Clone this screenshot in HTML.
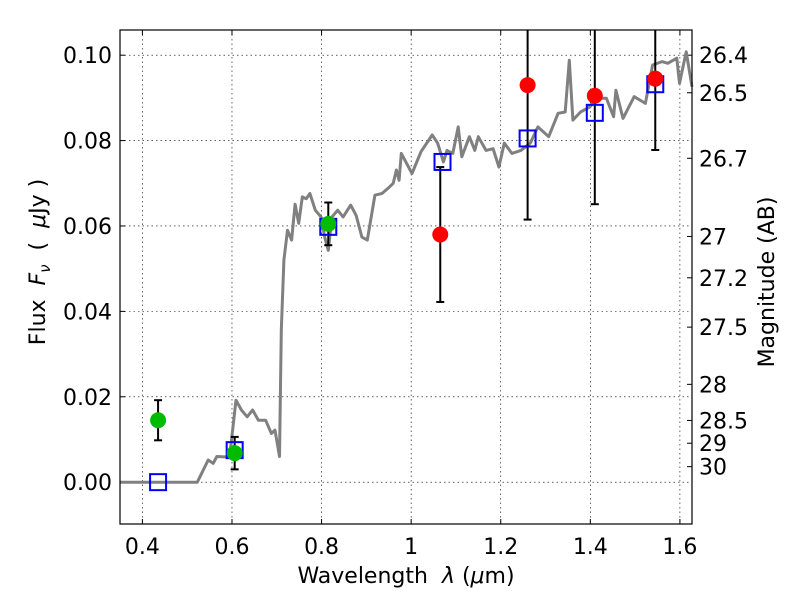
<!DOCTYPE html>
<html><head><meta charset="utf-8"><style>
body{margin:0;background:#fff}
svg text{font-family:"DejaVu Sans","Liberation Sans",sans-serif;fill:#000;white-space:pre}
</style></head><body>
<svg id="c" width="800" height="600" xmlns="http://www.w3.org/2000/svg"></svg>
<script>
const specLam=[0.35,0.5225,0.547,0.558,0.566,0.589,0.597,0.609,0.621,0.634,0.646,0.659,0.675,0.688,0.696,0.706,0.710,0.716,0.724,0.733,0.741,0.749,0.757,0.766,0.774,0.786,0.799,0.807,0.815,0.823,0.836,0.848,0.865,0.877,0.890,0.902,0.919,0.935,0.948,0.960,0.967,0.973,0.978,1.002,1.022,1.047,1.059,1.072,1.080,1.093,1.105,1.113,1.130,1.142,1.150,1.167,1.183,1.196,1.208,1.225,1.245,1.266,1.283,1.307,1.328,1.344,1.353,1.361,1.378,1.399,1.415,1.436,1.452,1.457,1.473,1.498,1.523,1.539,1.560,1.573,1.593,1.599,1.614,1.627];
const specFlux=[0,0,0.0052,0.0044,0.006,0.0059,0.008,0.0192,0.0169,0.0153,0.0169,0.0145,0.0145,0.0114,0.0122,0.006,0.0356,0.052,0.059,0.0567,0.0651,0.0606,0.0668,0.0664,0.0676,0.0637,0.0621,0.0574,0.0543,0.0621,0.0637,0.0621,0.0649,0.0625,0.0574,0.0567,0.0672,0.0676,0.0688,0.07,0.0731,0.0707,0.077,0.0723,0.0774,0.0813,0.0794,0.075,0.0777,0.077,0.0832,0.0762,0.0809,0.0777,0.0809,0.0777,0.0781,0.0738,0.0794,0.077,0.0777,0.0794,0.0832,0.0809,0.0864,0.0867,0.0988,0.0848,0.0867,0.0879,0.0899,0.0899,0.0856,0.0918,0.0852,0.0903,0.0887,0.0977,0.0985,0.0981,0.0993,0.0934,0.1008,0.0926];
const modelLam=[0.435,0.606,0.815,1.07,1.26,1.41,1.545];
const modelFlux=[0,0.0075,0.0598,0.075,0.0805,0.0865,0.0932];
const greenLam=[0.435,0.606,0.815];
const greenFlux=[0.0145,0.0068,0.0605];
const greenErr=[0.0047,0.0038,0.005];
const redLam=[1.065,1.26,1.41,1.545];
const redFlux=[0.058,0.093,0.0905,0.0945];
const redErr=[0.0158,0.0315,0.0254,0.0167];
const xTicks=[0.4,0.6,0.8,1.0,1.2,1.4,1.6];
const xTickLabels=["0.4","0.6","0.8","1","1.2","1.4","1.6"];
const yTicks=[0,0.02,0.04,0.06,0.08,0.10];
const yTickLabels=["0.00","0.02","0.04","0.06","0.08","0.10"];
const magTicks=[26.4,26.5,26.7,27,27.2,27.5,28,28.5,29,30];
const magLabels=["26.4","26.5","26.7","27","27.2","27.5","28","28.5","29","30"];

const L=120,R=692,T=30,B=524,xmin=0.35,xmax=1.627,ymin=-0.0098,ymax=0.1059;
const X=v=>L+(v-xmin)/(xmax-xmin)*(R-L);
const Y=v=>B-(v-ymin)/(ymax-ymin)*(B-T);
const svg=document.getElementById('c');
const NS="http://www.w3.org/2000/svg";
function mk(tag,at,parent){const e=document.createElementNS(NS,tag);for(const k in at)e.setAttribute(k,at[k]);(parent||svg).appendChild(e);return e;}
function txt(s,at){const e=mk('text',at);e.textContent=s;return e;}

xTicks.forEach((v,i)=>{
  const g=mk('line',{x1:X(v),x2:X(v),y1:T,y2:B,stroke:'#000','stroke-width':0.6,'stroke-dasharray':'1.5,3'});
  
  
  mk('line',{x1:X(v),x2:X(v),y1:B,y2:B-5,stroke:'#000'});
  mk('line',{x1:X(v),x2:X(v),y1:T,y2:T+5,stroke:'#000'});
  const t=txt(xTickLabels[i],{x:X(v),y:B+30,'font-size':22,'text-anchor':'middle'});
  
  
});
yTicks.forEach((v,i)=>{
  const g=mk('line',{x1:L,x2:R,y1:Y(v),y2:Y(v),stroke:'#000','stroke-width':0.6,'stroke-dasharray':'1.5,3'});
  
  
  mk('line',{x1:L,x2:L+5,y1:Y(v),y2:Y(v),stroke:'#000'});
  const t=txt(yTickLabels[i],{x:L-8,y:Y(v)+8,'font-size':22,'text-anchor':'end'});
  
  
});
magTicks.forEach((m,i)=>{
  const f=Math.pow(10,(23.9-m)/2.5);const y=Y(f);
  mk('line',{x1:R,x2:R-5,y1:y,y2:y,stroke:'#000'});
  const t=txt(magLabels[i],{x:R+7,y:y+8,'font-size':22});
  
  
});
let d='';specLam.forEach((l,i)=>{d+=(i?'L':'M')+X(l).toFixed(1)+','+Y(specFlux[i]).toFixed(1);});
const sp=mk('path',{d:d,fill:'none',stroke:'#808080','stroke-width':3,'stroke-linejoin':'round'});


function ebar(l,f,e){
  const x=X(l),y1=Y(f+e),y2=Y(f-e);
  mk('line',{x1:x,x2:x,y1:Math.max(y1,T),y2:y2,stroke:'#000','stroke-width':2});
  if(y1>T)mk('line',{x1:x-4,x2:x+4,y1:y1,y2:y1,stroke:'#000','stroke-width':2});
  mk('line',{x1:x-4,x2:x+4,y1:y2,y2:y2,stroke:'#000','stroke-width':2});
}
greenLam.forEach((l,i)=>ebar(l,greenFlux[i],greenErr[i]));
redLam.forEach((l,i)=>ebar(l,redFlux[i],redErr[i]));
modelLam.forEach((l,i)=>{
  const r=mk('rect',{x:X(l)-8,y:Y(modelFlux[i])-8,width:16,height:16,fill:'none',stroke:'#0000ff','stroke-width':2});
  
  
});
greenLam.forEach((l,i)=>{
  const c=mk('circle',{cx:X(l),cy:Y(greenFlux[i]),r:8,fill:'#00bb00'});
  
  
});
redLam.forEach((l,i)=>{
  const c=mk('circle',{cx:X(l),cy:Y(redFlux[i]),r:8,fill:'#ff0000'});
  
  
});
const fr=mk('rect',{x:L,y:T,width:R-L,height:B-T,fill:'none',stroke:'#000','stroke-width':1.2});


const xl=txt('',{x:406,y:583,'font-size':22,'text-anchor':'middle'});
xl.innerHTML='Wavelength  <tspan font-style="italic">λ</tspan> (<tspan font-style="italic">μ</tspan>m)';


const yl=txt('',{x:0,y:0,'font-size':22,'text-anchor':'middle',transform:'translate(45,262) rotate(-90)'});
yl.innerHTML='Flux  <tspan font-style="italic">F</tspan><tspan font-style="italic" font-size="15" dy="5">ν</tspan><tspan dy="-5">  (  </tspan><tspan font-style="italic">μ</tspan>Jy )';


const ml=txt('Magnitude (AB)',{x:0,y:0,'font-size':22,'text-anchor':'middle',transform:'translate(774,282) rotate(-90)'});


</script>
</body></html>
